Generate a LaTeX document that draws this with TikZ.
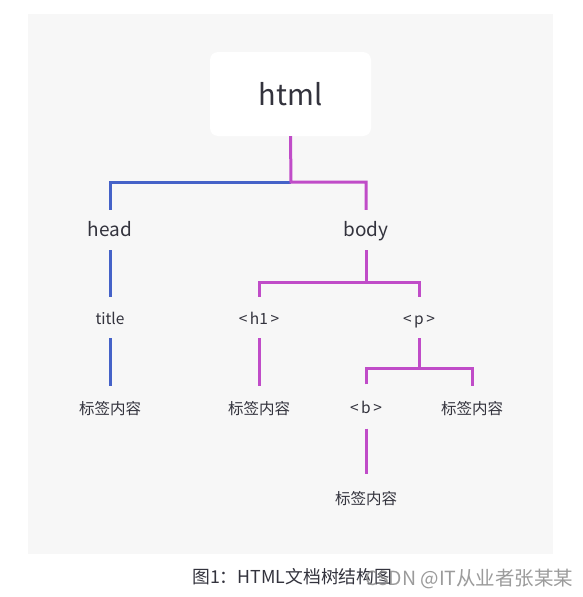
\documentclass[tikz,border=0pt]{standalone}
\usepackage{fontspec}
\setmainfont{Noto Sans CJK SC}
\definecolor{bgc}{HTML}{F7F7F7}
\definecolor{txt}{HTML}{33333D}
\definecolor{blu}{HTML}{4562C8}
\definecolor{mag}{HTML}{C04CC8}
\definecolor{wm}{HTML}{8A8A8A}
\begin{document}
\begin{tikzpicture}[x=1pt,y=-1pt,
  lbl/.style={inner sep=0pt,minimum height=41pt,text height=14pt,text depth=1pt,text=txt,font=\fontsize{15.5}{16}\selectfont},
  big/.style={inner sep=0pt,minimum height=40pt,text height=14pt,text depth=2pt,text=txt,font=\fontsize{19}{20}\selectfont},
  bl/.style={draw=blu,line width=3pt},
  mg/.style={draw=mag,line width=3pt}]
\useasboundingbox (0,0) rectangle (582,597);
\fill[white] (0,0) rectangle (582,597);
\fill[bgc] (28,14) rectangle (553,554);
\node[fill=white,rounded corners=8pt,minimum width=161pt,minimum height=84pt,inner sep=0pt,text=txt,font=\fontsize{29}{30}\selectfont] (html) at (290.5,94) {html};
\node[big] (head) at (110,230) {head};
\node[big] (body) at (366,230) {body};
\node[lbl] (title) at (110,317.5) {title};
\node[lbl] (h1) at (259,317.5) {<\,h1\,>};
\node[lbl] (p) at (419,317.5) {<\,p\,>};
\node[lbl,minimum height=44pt] (c1) at (110,408) {标签内容};
\node[lbl,minimum height=44pt] (c2) at (259,408) {标签内容};
\node[lbl,minimum height=44pt] (b) at (366,406.5) {<\,b\,>};
\node[lbl,minimum height=44pt] (c3) at (472,408) {标签内容};
\node[lbl,minimum height=48pt] (c4) at (366,498) {标签内容};
\coordinate (j1) at (291,182);
\coordinate (j2) at (366,282);
\coordinate (j3) at (419,368);
\draw[bl] (j1) -| (head.north);
\draw[bl] (head.south) -- (title.north);
\draw[bl] (title.south) -- (c1.north);
\draw[mg] (html.south) -- (j1) -| (body.north);
\draw[mg] (body.south) -- (j2);
\draw[mg] (h1.north) |- (j2) -| (p.north);
\draw[mg] (h1.south) -- (c2.north);
\draw[mg] (p.south) -- (j3);
\draw[mg] (b.north) |- (j3) -| (c3.north);
\draw[mg] (b.south) -- (c4.north);
\node[anchor=west,inner sep=0pt,text=txt,font=\fontsize{17.8}{18}\selectfont] (cap) at (192,577) {图1：HTML文档树结构图};
\node[anchor=west,inner sep=0pt,text=wm,opacity=0.85,font=\fontsize{19.5}{20}\selectfont] (wmk) at (365,579) {CSDN @IT从业者张某某};
\end{tikzpicture}
\end{document}
